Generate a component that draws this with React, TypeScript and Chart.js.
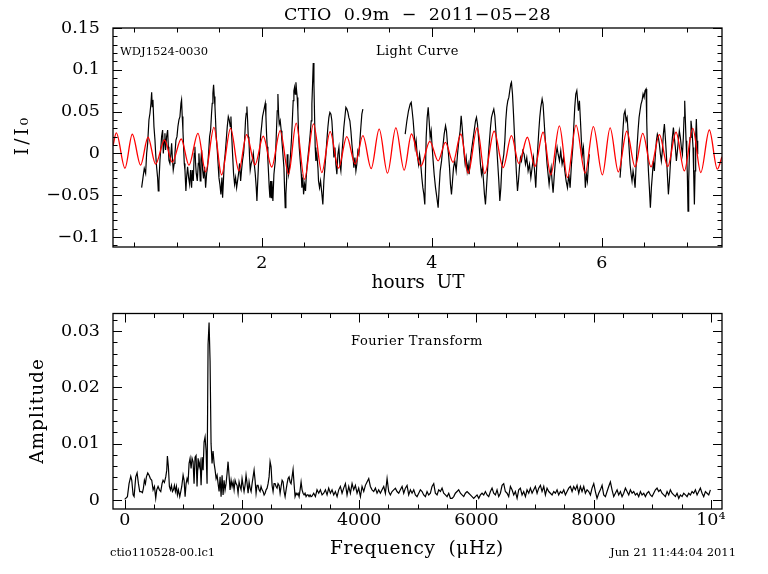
import React, { useEffect, useRef } from 'react';
import { Chart, registerables } from 'chart.js';
Chart.register(...registerables);

// ---------------- Light curve (hours UT, I/I0) ----------------
const lcTime = [
  0.584, 0.600, 0.615, 0.631, 0.643, 0.655, 0.670, 0.682, 0.694, 0.702, 0.709, 0.717, 0.729, 0.741, 0.749, 0.760, 0.772, 0.780, 0.788, 0.800,
  0.811, 0.819, 0.831, 0.839, 0.851, 0.858, 0.866, 0.878, 0.890, 0.898, 0.905, 0.917, 0.929, 0.937, 0.945, 0.956, 0.968, 0.976, 0.988, 1.000,
  1.011, 1.023, 1.035, 1.047, 1.054, 1.062, 1.070, 1.078, 1.086, 1.094, 1.105, 1.113, 1.125, 1.137, 1.149, 1.160, 1.172, 1.180, 1.192, 1.203,
  1.211, 1.219, 1.227, 1.239, 1.251, 1.258, 1.266, 1.274, 1.282, 1.290, 1.302, 1.313, 1.325, 1.337, 1.349, 1.360, 1.372, 1.384, 1.396, 1.407,
  1.415, 1.423, 1.431, 1.439, 1.447, 1.454, 1.462, 1.474, 1.486, 1.494, 1.505, 1.517, 1.529, 1.537, 1.545, 1.556, 1.568, 1.580, 1.592, 1.604,
  1.615, 1.627, 1.635, 1.643, 1.654, 1.666, 1.678, 1.690, 1.702, 1.713, 1.725, 1.737, 1.749, 1.760, 1.772, 1.784, 1.796, 1.807, 1.815, 1.823,
  1.831, 1.839, 1.847, 1.854, 1.862, 1.874, 1.886, 1.898, 1.909, 1.921, 1.933, 1.941, 1.949, 1.960, 1.972, 1.984, 1.996, 2.007, 2.019, 2.031,
  2.039, 2.047, 2.054, 2.062, 2.070, 2.078, 2.086, 2.094, 2.102, 2.110, 2.117, 2.129, 2.141, 2.157, 2.168, 2.180, 2.188, 2.196, 2.204, 2.215,
  2.227, 2.235, 2.247, 2.259, 2.266, 2.274, 2.282, 2.290, 2.298, 2.306, 2.314, 2.325, 2.337, 2.349, 2.361, 2.368, 2.376, 2.384, 2.392, 2.400,
  2.408, 2.415, 2.423, 2.431, 2.439, 2.451, 2.463, 2.470, 2.482, 2.490, 2.502, 2.513, 2.521, 2.533, 2.545, 2.557, 2.568, 2.580, 2.588, 2.596,
  2.604, 2.612, 2.619, 2.627, 2.635, 2.647, 2.659, 2.666, 2.678, 2.690, 2.706, 2.717, 2.729, 2.741, 2.753, 2.764, 2.776, 2.788, 2.800, 2.812,
  2.823, 2.835, 2.847, 2.859, 2.870, 2.882, 2.894, 2.906, 2.917, 2.929, 2.941, 2.953, 2.964, 2.976, 2.988, 3.000, 3.012, 3.023, 3.035, 3.047,
  3.059, 3.070, 3.082, 3.094, 3.106, 3.117, 3.129, 3.141, 3.153, 3.164, 3.176, 3.188, 3.200,
  3.686, 3.706, 3.725, 3.745, 3.757, 3.768, 3.780, 3.792, 3.804, 3.815, 3.827, 3.843, 3.855, 3.866, 3.882, 3.894, 3.906, 3.917,
  3.933, 3.945, 3.957, 3.968, 3.980, 3.992, 4.004, 4.015, 4.027, 4.043, 4.059, 4.074, 4.086, 4.098, 4.114, 4.129, 4.145, 4.161, 4.172, 4.184,
  4.196, 4.208, 4.219, 4.231, 4.243, 4.255, 4.270, 4.286, 4.302, 4.317, 4.333, 4.345, 4.357, 4.368, 4.380, 4.392, 4.404, 4.416, 4.427, 4.439,
  4.451, 4.466, 4.482, 4.498, 4.514, 4.525, 4.537, 4.549, 4.561, 4.572, 4.584, 4.596, 4.608, 4.619, 4.631, 4.643, 4.655, 4.666, 4.678, 4.690,
  4.702, 4.717, 4.729, 4.741, 4.753, 4.764, 4.776, 4.788, 4.800, 4.812, 4.823, 4.835, 4.847, 4.859, 4.870, 4.882, 4.894, 4.906, 4.917, 4.929,
  4.937, 4.949, 4.961, 4.972, 4.984, 4.996, 5.008, 5.019, 5.031, 5.043, 5.055, 5.070, 5.086, 5.102, 5.117, 5.133, 5.149, 5.165, 5.180, 5.196,
  5.212, 5.223, 5.235, 5.247, 5.259, 5.270, 5.282, 5.298, 5.309, 5.321, 5.333, 5.345, 5.356, 5.368, 5.380, 5.392, 5.404, 5.415, 5.427, 5.439,
  5.451, 5.462, 5.474, 5.486, 5.502, 5.517, 5.533, 5.549, 5.565, 5.580, 5.596, 5.612, 5.627, 5.643, 5.659, 5.670, 5.682, 5.694, 5.706, 5.713,
  5.725, 5.737, 5.749, 5.760, 5.772, 5.784, 5.796, 5.807, 5.819, 5.831, 5.843, 5.854, 5.860,
  6.215, 6.227, 6.239, 6.251, 6.262, 6.274, 6.286, 6.298, 6.309, 6.321, 6.333, 6.345, 6.356, 6.368, 6.380, 6.392, 6.403, 6.415, 6.427, 6.439,
  6.450, 6.462, 6.474, 6.486, 6.498, 6.509, 6.521, 6.529, 6.537, 6.549, 6.560, 6.572, 6.584, 6.596, 6.607, 6.619, 6.631, 6.643, 6.654, 6.666,
  6.678, 6.690, 6.701, 6.713, 6.725, 6.737, 6.748, 6.760, 6.772, 6.784, 6.796, 6.807, 6.819, 6.831, 6.843, 6.854, 6.866, 6.878, 6.890, 6.901,
  6.913, 6.925, 6.937, 6.949, 6.960, 6.968, 6.976, 6.984, 6.992, 7.000, 7.007, 7.015, 7.023, 7.031, 7.039, 7.050, 7.062, 7.074, 7.082, 7.090,
  7.098, 7.105, 7.113, 7.121, 7.129,
];
const lcFlux = [
  -0.041, -0.029, -0.018, -0.024, 0.000, 0.012, 0.040, 0.048, 0.060, 0.073, 0.056, 0.064, 0.032, 0.016, 0.000, -0.016, -0.029, -0.045, -0.033, -0.008,
  0.008, 0.020, 0.028, 0.000, 0.016, 0.024, 0.004, 0.020, 0.028, 0.008, -0.008, -0.012, 0.000, 0.012, -0.004, -0.020, -0.012, 0.000, 0.016, 0.020,
  0.032, 0.040, 0.044, 0.060, 0.064, 0.044, 0.028, 0.008, -0.012, -0.020, -0.045, -0.029, -0.016, -0.029, -0.037, -0.020, -0.041, -0.020, -0.033, 0.000,
  0.008, -0.012, -0.024, -0.033, -0.012, 0.000, -0.016, -0.033, -0.008, 0.004, -0.020, -0.030, -0.016, -0.041, -0.024, -0.016, 0.000, 0.020, 0.028, 0.048,
  0.060, 0.072, 0.082, 0.068, 0.056, 0.040, 0.020, 0.004, -0.016, -0.029, -0.037, -0.049, -0.029, -0.053, -0.037, -0.012, 0.000, 0.016, 0.032, 0.044,
  0.040, 0.032, 0.044, 0.024, 0.000, -0.024, -0.037, -0.029, -0.041, -0.033, -0.024, -0.012, -0.033, -0.020, -0.008, 0.000, 0.016, 0.040, 0.048, 0.056,
  0.040, 0.020, 0.016, -0.004, -0.020, -0.012, -0.008, 0.000, -0.012, -0.024, -0.041, -0.057, -0.037, -0.012, 0.000, 0.020, 0.032, 0.044, 0.050, 0.056,
  0.060, 0.044, 0.024, 0.008, -0.008, -0.024, -0.041, -0.053, -0.033, -0.053, -0.033, -0.057, -0.025, -0.009, 0.019, 0.051, 0.071, 0.047, 0.035, 0.039,
  0.027, 0.015, -0.001, -0.017, -0.041, -0.065, -0.049, -0.033, -0.001, -0.013, -0.025, -0.017, -0.001, 0.019, 0.047, 0.063, 0.075, 0.079, 0.071, 0.085,
  0.075, 0.067, 0.051, 0.023, 0.007, -0.009, -0.025, -0.041, -0.029, -0.049, -0.037, -0.045, -0.029, -0.013, -0.001, 0.011, 0.023, 0.039, 0.059, 0.083,
  0.108, 0.083, 0.047, 0.007, -0.009, -0.001, -0.017, -0.033, -0.041, -0.033, -0.049, -0.061, -0.033, -0.017, -0.001, 0.015, 0.031, 0.043, 0.049, 0.047,
  0.039, 0.019, -0.005, 0.007, -0.013, -0.025, -0.001, 0.007, -0.013, -0.021, -0.001, 0.015, 0.031, 0.043, 0.055, 0.053, 0.049, 0.043, 0.039, 0.027,
  0.011, -0.001, -0.017, -0.005, -0.021, -0.013, 0.003, -0.001, 0.015, 0.031, 0.047, 0.053, null,
  0.023, 0.039, 0.051, 0.059, 0.061, 0.051, 0.039, 0.023, 0.007, 0.015, -0.001, -0.013, -0.001, -0.009, -0.029, -0.041, -0.049, -0.061,
  0.019, 0.043, 0.055, 0.039, 0.019, 0.027, 0.007, -0.009, -0.025, -0.041, -0.053, -0.065, -0.041, -0.021, -0.009, 0.007, 0.023, 0.033, 0.027, 0.011,
  -0.001, -0.017, -0.037, -0.049, -0.033, -0.017, -0.009, -0.021, -0.001, 0.015, 0.027, 0.045, 0.031, 0.015, -0.001, -0.013, -0.005, -0.021, -0.013, -0.025,
  -0.009, 0.003, 0.015, 0.027, 0.039, 0.043, 0.035, 0.019, 0.003, -0.013, -0.025, -0.017, -0.033, -0.049, -0.061, -0.041, -0.021, -0.001, 0.015, 0.031,
  0.043, 0.049, 0.053, 0.045, 0.027, 0.007, -0.013, -0.033, -0.057, -0.041, -0.017, -0.009, -0.001, 0.015, 0.039, 0.055, 0.063, 0.067, 0.075, 0.083,
  0.085, 0.071, 0.047, 0.023, -0.001, -0.025, -0.045, -0.033, -0.017, -0.005, -0.009, 0.003, -0.001, -0.013, -0.005, -0.021, -0.013, -0.029, -0.017, -0.005,
  -0.025, -0.041, -0.013, 0.007, 0.027, 0.043, 0.055, 0.065, 0.059, 0.039, 0.019, 0.003, -0.013, -0.025, -0.037, -0.025, -0.017, -0.033, -0.047, -0.029,
  -0.013, -0.001, 0.007, -0.001, -0.009, 0.003, -0.013, -0.005, -0.021, -0.033, -0.041, -0.025, -0.041, -0.013, 0.007, 0.031, 0.055, 0.071, 0.075, 0.067,
  0.051, 0.063, 0.039, 0.015, -0.001, 0.007, -0.017, -0.041, -0.025, -0.033, -0.013, -0.001, null,
  -0.029, -0.013, 0.011, 0.031, 0.047, 0.051, 0.039, 0.043, 0.027, 0.007, -0.013, -0.025, -0.033, -0.021, -0.029, -0.041, -0.017, 0.007, 0.027, 0.043,
  0.051, 0.059, 0.063, 0.071, 0.067, 0.075, 0.077, 0.039, 0.007, -0.021, -0.041, -0.065, -0.041, -0.025, -0.009, -0.021, -0.001, 0.015, 0.023, 0.019,
  0.011, -0.001, -0.009, 0.003, 0.023, 0.035, 0.019, -0.001, -0.025, -0.049, -0.033, -0.013, 0.003, 0.019, 0.031, 0.019, 0.007, -0.009, 0.003, 0.015,
  0.027, 0.019, 0.007, -0.001, 0.019, 0.043, 0.063, 0.039, 0.015, -0.005, -0.025, -0.069, -0.033, -0.001, 0.019, 0.039, 0.027, 0.007, -0.025, -0.061,
  -0.021, 0.019, 0.041, 0.015, -0.001,
];

// ---------------- Red fitted curve (extrema, hours UT) ----------------
const fitTime = [
  0.247, 0.286, 0.388, 0.474, 0.572, 0.659, 0.748, 0.854, 0.945, 1.050, 1.141, 1.247, 1.337, 1.435, 1.525, 1.631, 1.729, 1.819, 1.918, 2.015,
  2.115, 2.215, 2.313, 2.403, 2.501, 2.607, 2.705, 2.803, 2.901, 2.999, 3.097, 3.188, 3.286, 3.380, 3.478, 3.576, 3.674, 3.760, 3.870, 3.976,
  4.074, 4.160, 4.250, 4.341, 4.427, 4.533, 4.623, 4.733, 4.839, 4.937, 5.024, 5.125, 5.212, 5.309, 5.400, 5.501, 5.596, 5.697, 5.804, 5.901,
  6.007, 6.098, 6.195, 6.294, 6.392, 6.482, 6.580, 6.678, 6.776, 6.874, 6.972, 7.071, 7.165, 7.266, 7.360, 7.415,
];
const fitFlux = [
  0.0090, 0.0245, -0.0177, 0.0229, -0.0141, 0.0193, -0.0129, 0.0160, -0.0108, 0.0172, -0.0141, 0.0240, -0.0221, 0.0310, -0.0257, 0.0300, -0.0209, 0.0225, -0.0137, 0.0205,
  -0.0163, 0.0272, -0.0249, 0.0361, -0.0310, 0.0353, -0.0229, 0.0260, -0.0177, 0.0200, -0.0129, 0.0212, -0.0181, 0.0289, -0.0237, 0.0305, -0.0201, 0.0232, -0.0153, 0.0144,
  -0.0089, 0.0132, -0.0108, 0.0232, -0.0237, 0.0305, -0.0241, 0.0265, -0.0169, 0.0212, -0.0121, 0.0193, -0.0157, 0.0253, -0.0257, 0.0329, -0.0289, 0.0337, -0.0237, 0.0320,
  -0.0257, 0.0305, -0.0221, 0.0265, -0.0161, 0.0240, -0.0161, 0.0225, -0.0157, 0.0253, -0.0209, 0.0300, -0.0229, 0.0280, -0.0189, -0.0040,
];

// ---------------- Fourier transform (microHz, amplitude) ----------------
const ftFreq = [
  0, 17, 46, 74, 103, 120, 143, 160, 188, 211, 234, 256, 279, 302, 319, 336, 353, 370, 393, 416,
  438, 461, 484, 507, 529, 546, 569, 592, 615, 637, 654, 677, 700, 717, 728, 745, 762, 780, 797, 814,
  831, 848, 865, 882, 899, 916, 939, 956, 973, 996, 1013, 1030, 1047, 1064, 1081, 1098, 1115, 1132, 1149, 1166,
  1183, 1200, 1217, 1234, 1252, 1269, 1286, 1303, 1320, 1337, 1354, 1371, 1388, 1405, 1422, 1439, 1456, 1473, 1490, 1507,
  1525, 1542, 1559, 1576, 1593, 1610, 1627, 1644, 1661, 1678, 1695, 1712, 1729, 1746, 1763, 1780, 1797, 1815, 1832, 1849,
  1866, 1883, 1900, 1917, 1934, 1951, 1968, 1985, 2002, 2019, 2036, 2053, 2070, 2088, 2105, 2122, 2139, 2156, 2173, 2190,
  2207, 2224, 2241, 2258, 2275, 2292, 2309, 2326, 2343, 2361, 2378, 2395, 2412, 2429, 2446, 2463, 2480, 2497, 2514, 2531,
  2548, 2565, 2582, 2599, 2616, 2634, 2651, 2668, 2685, 2702, 2719, 2736, 2753, 2770, 2787, 2804, 2821, 2838, 2855, 2872,
  2889, 2906, 2924, 2941, 2958, 2975, 2992, 3009, 3026, 3043, 3060, 3077, 3094, 3111, 3128, 3145, 3162, 3179, 3196,
  3224, 3253, 3281, 3310, 3338, 3367, 3395, 3424, 3452, 3480, 3509, 3537, 3566, 3594, 3623, 3651, 3679, 3708, 3736, 3765,
  3793, 3822, 3850, 3879, 3907, 3935, 3964, 3992, 4021, 4049, 4078, 4106, 4134, 4163, 4191, 4220, 4248, 4277, 4305, 4333,
  4362, 4390, 4419, 4447, 4476, 4504, 4532, 4561, 4589, 4618, 4646, 4675, 4703, 4732, 4760, 4788, 4817, 4845, 4874, 4902,
  4931, 4959, 4987, 5016, 5044, 5073, 5101, 5130, 5158, 5186, 5215, 5243, 5272, 5300, 5329, 5357, 5386, 5414, 5442, 5471,
  5499, 5528, 5556, 5585, 5613, 5641, 5670, 5698, 5727, 5755, 5784, 5812, 5841, 5869, 5897, 5926, 5954, 5983, 6011, 6040,
  6068, 6096, 6125, 6153, 6182, 6210, 6239, 6267, 6295, 6324, 6352, 6381, 6409, 6438, 6466, 6494, 6523, 6551, 6580, 6608,
  6637, 6665, 6694, 6722, 6750, 6779, 6807, 6836, 6864, 6893, 6921, 6950, 6978, 7006, 7035, 7063, 7092, 7120, 7149, 7177,
  7205, 7234, 7262, 7291, 7319, 7348, 7376, 7404, 7433, 7461, 7490, 7518, 7547, 7575, 7603, 7632, 7660, 7689, 7717, 7746,
  7774, 7802, 7831, 7859, 7888, 7916, 7945, 7973, 8002, 8030, 8058, 8087, 8115, 8144, 8172, 8201, 8229, 8257, 8286, 8314,
  8343, 8371, 8400, 8428, 8457, 8485, 8513, 8542, 8570, 8599, 8627, 8656, 8684, 8712, 8741, 8769, 8798, 8826, 8855, 8883,
  8911, 8940, 8968, 8997, 9025, 9054, 9082, 9110, 9139, 9167, 9196, 9224, 9253, 9281, 9309, 9338, 9366, 9395, 9423, 9452,
  9480, 9509, 9537, 9566, 9594, 9622, 9651, 9679, 9708, 9736, 9765, 9793, 9821, 9850, 9878, 9907, 9935, 9964, 9992,
];
const ftAmp = [
  0.0001, 0.0003, 0.0006, 0.0029, 0.0042, 0.0035, 0.0009, 0.0006, 0.0041, 0.0048, 0.0029, 0.0015, 0.0015, 0.0013, 0.0021, 0.0035, 0.0029, 0.0041, 0.0048, 0.0044,
  0.0038, 0.0035, 0.0018, 0.0024, 0.0003, 0.0018, 0.0024, 0.0018, 0.0015, 0.0029, 0.0035, 0.0031, 0.0041, 0.0053, 0.0078, 0.0059, 0.0024, 0.0018, 0.0026, 0.0015,
  0.0018, 0.0026, 0.0015, 0.0024, 0.0009, 0.0018, 0.0006, 0.0015, 0.0024, 0.0044, 0.0035, 0.0006, 0.0029, 0.0038, 0.0032, 0.0065, 0.0074, 0.0056, 0.0074, 0.0068,
  0.0029, 0.0076, 0.0079, 0.0024, 0.0074, 0.0059, 0.0068, 0.0026, 0.0076, 0.0053, 0.0103, 0.0112, 0.0088, 0.0029, 0.0276, 0.0315, 0.0247, 0.0100, 0.0065, 0.0087,
  0.0065, 0.0053, 0.0038, 0.0044, 0.0029, 0.0015, 0.0041, 0.0006, 0.0044, 0.0009, 0.0035, 0.0018, 0.0029, 0.0047, 0.0068, 0.0044, 0.0018, 0.0035, 0.0024, 0.0032,
  0.0018, 0.0035, 0.0029, 0.0026, 0.0012, 0.0032, 0.0024, 0.0018, 0.0038, 0.0026, 0.0015, 0.0026, 0.0044, 0.0029, 0.0012, 0.0032, 0.0021, 0.0015, 0.0029, 0.0041,
  0.0053, 0.0035, 0.0012, 0.0026, 0.0026, 0.0018, 0.0015, 0.0024, 0.0018, 0.0015, 0.0009, 0.0012, 0.0018, 0.0021, 0.0029, 0.0041, 0.0068, 0.0059, 0.0026, 0.0015,
  0.0029, 0.0029, 0.0024, 0.0021, 0.0029, 0.0026, 0.0012, 0.0024, 0.0035, 0.0032, 0.0015, 0.0006, 0.0018, 0.0029, 0.0038, 0.0041, 0.0032, 0.0029, 0.0041, 0.0054,
  0.0029, 0.0006, 0.0012, 0.0009, 0.0012, 0.0006, 0.0018, 0.0032, 0.0018, 0.0012, 0.0009, 0.0012, 0.0006, 0.0009, 0.0009, 0.0006, 0.0009, 0.0006, 0.0007,
  0.0012, 0.0006, 0.0018, 0.0012, 0.0018, 0.0009, 0.0012, 0.0018, 0.0009, 0.0021, 0.0012, 0.0018, 0.0009, 0.0015, 0.0006, 0.0018, 0.0024, 0.0012, 0.0021, 0.0029,
  0.0009, 0.0024, 0.0012, 0.0029, 0.0018, 0.0026, 0.0012, 0.0021, 0.0006, 0.0024, 0.0015, 0.0026, 0.0032, 0.0038, 0.0024, 0.0018, 0.0015, 0.0021, 0.0012, 0.0018,
  0.0012, 0.0018, 0.0024, 0.0012, 0.0038, 0.0015, 0.0009, 0.0015, 0.0018, 0.0021, 0.0015, 0.0012, 0.0018, 0.0024, 0.0012, 0.0021, 0.0026, 0.0009, 0.0018, 0.0012,
  0.0018, 0.0009, 0.0006, 0.0012, 0.0018, 0.0015, 0.0009, 0.0006, 0.0015, 0.0009, 0.0012, 0.0024, 0.0029, 0.0012, 0.0009, 0.0018, 0.0015, 0.0021, 0.0012, 0.0009,
  0.0006, 0.0012, 0.0003, 0.0003, 0.0006, 0.0012, 0.0015, 0.0018, 0.0012, 0.0009, 0.0006, 0.0012, 0.0015, 0.0012, 0.0009, 0.0006, 0.0003, 0.0006, 0.0009, 0.0003,
  0.0009, 0.0012, 0.0009, 0.0015, 0.0009, 0.0006, 0.0015, 0.0021, 0.0012, 0.0009, 0.0018, 0.0006, 0.0012, 0.0026, 0.0029, 0.0015, 0.0012, 0.0006, 0.0024, 0.0018,
  0.0009, 0.0015, 0.0003, 0.0018, 0.0021, 0.0009, 0.0015, 0.0006, 0.0018, 0.0012, 0.0021, 0.0012, 0.0018, 0.0024, 0.0012, 0.0021, 0.0026, 0.0015, 0.0024, 0.0009,
  0.0021, 0.0015, 0.0012, 0.0009, 0.0015, 0.0012, 0.0018, 0.0009, 0.0015, 0.0012, 0.0018, 0.0009, 0.0015, 0.0021, 0.0024, 0.0015, 0.0024, 0.0018, 0.0026, 0.0012,
  0.0024, 0.0015, 0.0024, 0.0012, 0.0018, 0.0015, 0.0009, 0.0021, 0.0029, 0.0015, 0.0003, 0.0012, 0.0018, 0.0026, 0.0009, 0.0006, 0.0015, 0.0024, 0.0032, 0.0018,
  0.0006, 0.0012, 0.0018, 0.0009, 0.0015, 0.0006, 0.0012, 0.0021, 0.0015, 0.0009, 0.0018, 0.0012, 0.0015, 0.0009, 0.0012, 0.0006, 0.0015, 0.0009, 0.0012, 0.0006,
  0.0012, 0.0015, 0.0009, 0.0006, 0.0012, 0.0018, 0.0021, 0.0015, 0.0018, 0.0012, 0.0009, 0.0006, 0.0015, 0.0009, 0.0018, 0.0012, 0.0009, 0.0006, 0.0012, 0.0003,
  0.0009, 0.0006, 0.0012, 0.0009, 0.0006, 0.0012, 0.0009, 0.0015, 0.0012, 0.0018, 0.0009, 0.0015, 0.0021, 0.0012, 0.0006, 0.0015, 0.0012, 0.0009, 0.0018,
];

// ---------------- Axis ticks ----------------
const lcXMajor = [2, 4, 6];
const lcXLabels = ['2', '4', '6'];
const lcXMinor = [0.5, 1, 1.5, 2.5, 3, 3.5, 4.5, 5, 5.5, 6.5, 7];
const lcYMajor = [-0.1, -0.05, 0, 0.05, 0.1, 0.15];
const lcYLabels = ['\u22120.1', '\u22120.05', '0', '0.05', '0.1', '0.15'];
const lcYMinor = [-0.11, -0.09, -0.08, -0.07, -0.06, -0.04, -0.03, -0.02, -0.01, 0.01, 0.02, 0.03, 0.04, 0.06, 0.07, 0.08, 0.09, 0.11, 0.12, 0.13, 0.14];
const ftXMajor = [0, 2000, 4000, 6000, 8000, 10000];
const ftXLabels = ['0', '2000', '4000', '6000', '8000', '10\u2074'];
const ftXMinor = [500, 1000, 1500, 2500, 3000, 3500, 4500, 5000, 5500, 6500, 7000, 7500, 8500, 9000, 9500];
const ftYMajor = [0, 0.01, 0.02, 0.03];
const ftYLabels = ['0', '0.01', '0.02', '0.03'];
const ftYMinor = [0.002, 0.004, 0.006, 0.008, 0.012, 0.014, 0.016, 0.018, 0.022, 0.024, 0.026, 0.028, 0.032];

const SERIF = '"DejaVu Serif", "Liberation Serif", serif';

type TextItem = { text: string; x: number; y: number; size: number; align?: CanvasTextAlign; rot?: boolean; ls?: number };

function makeFramePlugin(xMajor: number[], xMinor: number[], yMajor: number[], yMinor: number[], texts: TextItem[]) {
  return {
    id: 'frameAndText',
    afterDraw(chart: any) {
      const { ctx, chartArea: a, scales } = chart;
      const xs = scales.x;
      const ys = scales.y;
      ctx.save();
      ctx.strokeStyle = '#000';
      ctx.lineWidth = 1.3;
      ctx.strokeRect(a.left, a.top, a.right - a.left, a.bottom - a.top);
      ctx.lineWidth = 1;
      ctx.beginPath();
      const xt = (vals: number[], len: number) => {
        for (const v of vals) {
          const p = Math.round(xs.getPixelForValue(v)) + 0.5;
          ctx.moveTo(p, a.bottom); ctx.lineTo(p, a.bottom - len);
          ctx.moveTo(p, a.top); ctx.lineTo(p, a.top + len);
        }
      };
      const yt = (vals: number[], len: number) => {
        for (const v of vals) {
          const p = Math.round(ys.getPixelForValue(v)) + 0.5;
          ctx.moveTo(a.left, p); ctx.lineTo(a.left + len, p);
          ctx.moveTo(a.right, p); ctx.lineTo(a.right - len, p);
        }
      };
      xt(xMajor, 9); xt(xMinor, 4.5);
      yt(yMajor, 9); yt(yMinor, 4.5);
      ctx.stroke();
      ctx.fillStyle = '#000';
      ctx.textBaseline = 'middle';
      for (const t of texts) {
        ctx.save();
        ctx.font = `${t.size}px ${SERIF}`;
        (ctx as any).letterSpacing = `${t.ls ?? 0}px`;
        ctx.textAlign = t.align ?? 'left';
        ctx.translate(t.x, t.y);
        if (t.rot) ctx.rotate(-Math.PI / 2);
        ctx.fillText(t.text, 0, 0);
        ctx.restore();
      }
      ctx.restore();
    },
  };
}

function axisCfg(min: number, max: number, major: number[], labels: string[], fit: (ax: any) => void, padding: number) {
  return {
    type: 'linear' as const,
    min,
    max,
    afterBuildTicks: (ax: any) => { ax.ticks = major.map((v) => ({ value: v })); },
    afterFit: fit,
    grid: { display: false, drawTicks: false },
    border: { display: false },
    ticks: {
      color: '#000',
      font: { family: SERIF, size: 17.5 },
      padding,
      maxRotation: 0,
      autoSkip: false,
      callback: (v: any) => labels[major.indexOf(v)] ?? '',
    },
  };
}

export default function App() {
  const topRef = useRef<HTMLCanvasElement>(null);
  const botRef = useRef<HTMLCanvasElement>(null);

  useEffect(() => {
    const lcData = lcTime.map((t, i) => ({ x: t, y: lcFlux[i] }));
    const fitData = fitTime.map((t, i) => ({ x: t, y: fitFlux[i] }));
    const ftData = ftFreq.map((f, i) => ({ x: f, y: ftAmp[i] }));

    const topTexts: TextItem[] = [
      { text: 'CTIO  0.9m  \u2212  2011\u221205\u221228', x: 417.5, y: 15, size: 17.5, align: 'center', ls: 0.4 },
      { text: 'hours  UT', x: 418, y: 283, size: 18.5, align: 'center' },
      { text: 'I/I\u2080', x: 23, y: 135, size: 18.5, align: 'center', rot: true, ls: 3 },
      { text: 'WDJ1524-0030', x: 120, y: 52, size: 11.5 },
      { text: 'Light Curve', x: 376, y: 52, size: 13, ls: 0.4 },
    ];
    const botTexts: TextItem[] = [
      { text: 'Fourier Transform', x: 351, y: 52, size: 13, ls: 0.6 },
      { text: 'Amplitude', x: 38, y: 121, size: 18.5, align: 'center', rot: true, ls: 1 },
      { text: 'Frequency  (\u03bcHz)', x: 417, y: 259, size: 18.5, align: 'center', ls: 0.6 },
      { text: 'ctio110528-00.lc1', x: 110, y: 263, size: 11.5 },
      { text: 'Jun 21 11:44:04 2011', x: 736, y: 263, size: 11.5, align: 'right' },
    ];

    const common = {
      responsive: false,
      animation: false as const,
      events: [] as any[],
      plugins: { legend: { display: false }, tooltip: { enabled: false }, title: { display: false } },
      elements: { point: { radius: 0 } },
    };

    const c1 = new Chart(topRef.current!, {
      type: 'line',
      data: {
        datasets: [
          { data: fitData, borderColor: '#ff0000', borderWidth: 1.3, cubicInterpolationMode: 'monotone', pointRadius: 0, fill: false },
          { data: lcData as any, borderColor: '#000000', borderWidth: 1.2, tension: 0, spanGaps: false, pointRadius: 0, fill: false },
        ],
      },
      options: {
        ...common,
        layout: { padding: { left: 0, top: 28, right: 46, bottom: 0 } },
        scales: {
          x: axisCfg(0.247, 7.415, lcXMajor, lcXLabels, (ax: any) => { ax.height = 43; }, 6),
          y: axisCfg(-0.112, 0.15, lcYMajor, lcYLabels, (ax: any) => { ax.width = 113; }, 13),
        },
      } as any,
      plugins: [makeFramePlugin(lcXMajor, lcXMinor, lcYMajor, lcYMinor, topTexts)],
    });

    const c2 = new Chart(botRef.current!, {
      type: 'line',
      data: {
        datasets: [
          { data: ftData, borderColor: '#000000', borderWidth: 1.2, tension: 0, pointRadius: 0, fill: false },
        ],
      },
      options: {
        ...common,
        layout: { padding: { left: 0, top: 23, right: 46, bottom: 0 } },
        scales: {
          x: axisCfg(-200, 10190, ftXMajor, ftXLabels, (ax: any) => { ax.height = 65; }, 1),
          y: axisCfg(-0.0016, 0.0331, ftYMajor, ftYLabels, (ax: any) => { ax.width = 113; }, 13),
        },
      } as any,
      plugins: [makeFramePlugin(ftXMajor, ftXMinor, ftYMajor, ftYMinor, botTexts)],
    });

    return () => { c1.destroy(); c2.destroy(); };
  }, []);

  return (
    <div style={{ position: 'fixed', left: 0, top: 0, width: 768, height: 574, background: '#ffffff' }}>
      <canvas ref={topRef} width={768} height={290} style={{ position: 'absolute', left: 0, top: 0, width: 768, height: 290 }} />
      <canvas ref={botRef} width={768} height={284} style={{ position: 'absolute', left: 0, top: 290, width: 768, height: 284 }} />
    </div>
  );
}
